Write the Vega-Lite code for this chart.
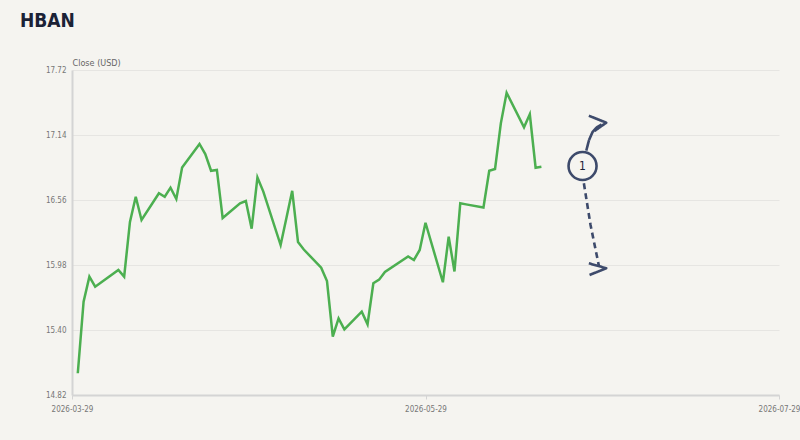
{
  "$schema": "https://vega.github.io/schema/vega-lite/v6.json",
  "autosize": "none",
  "width": 707,
  "height": 325,
  "padding": {"left": 72, "top": 70, "right": 21, "bottom": 45},
  "background": "#f5f4f0",
  "title": {
    "text": "HBAN",
    "anchor": "start",
    "frame": "group",
    "dx": -52,
    "offset": 27,
    "font": "'DejaVu Sans Condensed', 'Roboto', sans-serif",
    "fontSize": 19,
    "fontWeight": "bold",
    "color": "#1b2236"
  },
  "config": {
    "view": {"stroke": null},
    "axis": {
      "labelFont": "'DejaVu Sans Condensed', 'Roboto', sans-serif",
      "labelFontSize": 8,
      "labelColor": "#777777",
      "titleFont": "'DejaVu Sans Condensed', 'Roboto', sans-serif",
      "titleFontSize": 9,
      "titleFontWeight": "normal",
      "titleColor": "#666666",
      "domainColor": "#d4d4d4",
      "domainWidth": 2,
      "gridColor": "#e6e5e2",
      "gridWidth": 1,
      "tickColor": "#d4d4d4"
    }
  },
  "datasets": {
    "prices": [
      {"date": "2026-03-30", "close": 15.014},
      {"date": "2026-03-31", "close": 15.653},
      {"date": "2026-04-01", "close": 15.876},
      {"date": "2026-04-02", "close": 15.786},
      {"date": "2026-04-06", "close": 15.935},
      {"date": "2026-04-07", "close": 15.876},
      {"date": "2026-04-08", "close": 16.364},
      {"date": "2026-04-09", "close": 16.589},
      {"date": "2026-04-10", "close": 16.382},
      {"date": "2026-04-13", "close": 16.620},
      {"date": "2026-04-14", "close": 16.589},
      {"date": "2026-04-15", "close": 16.670},
      {"date": "2026-04-16", "close": 16.569},
      {"date": "2026-04-17", "close": 16.850},
      {"date": "2026-04-20", "close": 17.060},
      {"date": "2026-04-21", "close": 16.970},
      {"date": "2026-04-22", "close": 16.821},
      {"date": "2026-04-23", "close": 16.828},
      {"date": "2026-04-24", "close": 16.399},
      {"date": "2026-04-27", "close": 16.531},
      {"date": "2026-04-28", "close": 16.551},
      {"date": "2026-04-29", "close": 16.304},
      {"date": "2026-04-30", "close": 16.761},
      {"date": "2026-05-01", "close": 16.637},
      {"date": "2026-05-04", "close": 16.158},
      {"date": "2026-05-05", "close": 16.400},
      {"date": "2026-05-06", "close": 16.642},
      {"date": "2026-05-07", "close": 16.185},
      {"date": "2026-05-08", "close": 16.118},
      {"date": "2026-05-11", "close": 15.956},
      {"date": "2026-05-12", "close": 15.837},
      {"date": "2026-05-13", "close": 15.342},
      {"date": "2026-05-14", "close": 15.504},
      {"date": "2026-05-15", "close": 15.406},
      {"date": "2026-05-18", "close": 15.563},
      {"date": "2026-05-19", "close": 15.451},
      {"date": "2026-05-20", "close": 15.817},
      {"date": "2026-05-21", "close": 15.849},
      {"date": "2026-05-22", "close": 15.918},
      {"date": "2026-05-26", "close": 16.056},
      {"date": "2026-05-27", "close": 16.025},
      {"date": "2026-05-28", "close": 16.114},
      {"date": "2026-05-29", "close": 16.357},
      {"date": "2026-06-01", "close": 15.826},
      {"date": "2026-06-02", "close": 16.233},
      {"date": "2026-06-03", "close": 15.922},
      {"date": "2026-06-04", "close": 16.531},
      {"date": "2026-06-05", "close": 16.521},
      {"date": "2026-06-08", "close": 16.493},
      {"date": "2026-06-09", "close": 16.821},
      {"date": "2026-06-10", "close": 16.837},
      {"date": "2026-06-11", "close": 17.244},
      {"date": "2026-06-12", "close": 17.517},
      {"date": "2026-06-15", "close": 17.209},
      {"date": "2026-06-16", "close": 17.325},
      {"date": "2026-06-17", "close": 16.848},
      {"date": "2026-06-18", "close": 16.857}
    ],
    "arrows": [
      {"seg": "up", "style": "solid", "i": 1, "date": "2026-06-25T17:46:00Z", "close": 17.000},
      {"seg": "up", "style": "solid", "i": 2, "date": "2026-06-26T05:17:00Z", "close": 17.095},
      {"seg": "up", "style": "solid", "i": 3, "date": "2026-06-26T19:55:00Z", "close": 17.167},
      {"seg": "up", "style": "solid", "i": 4, "date": "2026-06-27T12:25:00Z", "close": 17.207},
      {"seg": "up", "style": "solid", "i": 5, "date": "2026-06-28T09:06:00Z", "close": 17.234},
      {"seg": "uphead", "style": "solid", "i": 1, "date": "2026-06-26T04:34:00Z", "close": 17.312},
      {"seg": "uphead", "style": "solid", "i": 2, "date": "2026-06-29T04:34:00Z", "close": 17.250},
      {"seg": "uphead", "style": "solid", "i": 3, "date": "2026-06-27T04:05:00Z", "close": 17.176},
      {"seg": "down", "style": "dashed", "i": 1, "date": "2026-06-25T07:55:00Z", "close": 16.709},
      {"seg": "down", "style": "dashed", "i": 2, "date": "2026-06-26T11:31:00Z", "close": 16.337},
      {"seg": "down", "style": "dashed", "i": 3, "date": "2026-06-27T22:48:00Z", "close": 15.965},
      {"seg": "downhead", "style": "solid", "i": 1, "date": "2026-06-26T04:34:00Z", "close": 15.995},
      {"seg": "downhead", "style": "solid", "i": 2, "date": "2026-06-29T04:34:00Z", "close": 15.951},
      {"seg": "downhead", "style": "solid", "i": 3, "date": "2026-06-26T07:26:00Z", "close": 15.891}
    ],
    "marker": [
      {"date": "2026-06-25T02:24:00Z", "close": 16.863, "label": "1"}
    ]
  },
  "layer": [
    {
      "data": {"name": "prices"},
      "mark": {"type": "line", "color": "#4caf50", "strokeWidth": 2.5, "strokeJoin": "miter"},
      "encoding": {
        "x": {
          "field": "date",
          "type": "temporal",
          "scale": {
            "type": "utc",
            "domain": [
              {"year": 2026, "month": 3, "date": 29, "utc": true},
              {"year": 2026, "month": 7, "date": 29, "utc": true}
            ]
          },
          "axis": {
            "title": null,
            "grid": false,
            "format": "%Y-%m-%d",
            "values": [
              {"year": 2026, "month": 3, "date": 29, "utc": true},
              {"year": 2026, "month": 5, "date": 29, "utc": true},
              {"year": 2026, "month": 7, "date": 29, "utc": true}
            ],
            "tickSize": 4,
            "labelPadding": 6,
            "labelFlush": false
          }
        },
        "y": {
          "field": "close",
          "type": "quantitative",
          "scale": {"domain": [14.82, 17.72], "zero": false, "nice": false},
          "axis": {
            "title": "Close (USD)",
            "titleAngle": 0,
            "titleAlign": "left",
            "titleBaseline": "bottom",
            "titleX": 0,
            "titleY": -3,
            "values": [14.82, 15.40, 15.98, 16.56, 17.14, 17.72],
            "format": ".2f",
            "ticks": false,
            "labelPadding": 6
          }
        }
      }
    },
    {
      "data": {"name": "arrows"},
      "mark": {"type": "line", "color": "#3d4a6b", "strokeWidth": 2.6, "strokeCap": "butt", "strokeJoin": "round"},
      "encoding": {
        "x": {"field": "date", "type": "temporal"},
        "y": {"field": "close", "type": "quantitative"},
        "detail": {"field": "seg"},
        "order": {"field": "i"},
        "strokeDash": {
          "field": "style",
          "type": "nominal",
          "scale": {"domain": ["solid", "dashed"], "range": [[1, 0], [6, 4]]},
          "legend": null
        }
      }
    },
    {
      "data": {"name": "marker"},
      "mark": {"type": "point", "shape": "circle", "size": 784, "filled": true, "fill": "#f5f4f0", "stroke": "#3d4a6b", "strokeWidth": 2.6, "opacity": 1},
      "encoding": {
        "x": {"field": "date", "type": "temporal"},
        "y": {"field": "close", "type": "quantitative"}
      }
    },
    {
      "data": {"name": "marker"},
      "mark": {"type": "text", "font": "'DejaVu Sans Condensed', 'Roboto', sans-serif", "fontSize": 12, "color": "#1b2236", "align": "center", "baseline": "middle"},
      "encoding": {
        "x": {"field": "date", "type": "temporal"},
        "y": {"field": "close", "type": "quantitative"},
        "text": {"field": "label"}
      }
    }
  ]
}
